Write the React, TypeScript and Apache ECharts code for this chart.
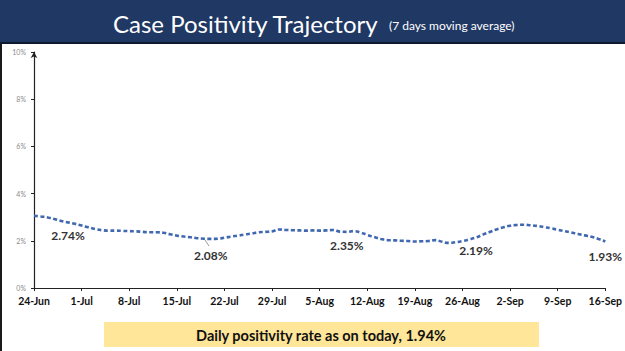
import React, { useEffect, useRef } from "react";
import * as echarts from "echarts";

// Daily 7-day moving average of case positivity (%), 24-Jun to 16-Sep
const startDate = "2020-06-24";
const dayCount = 85;
const months = ["Jan", "Feb", "Mar", "Apr", "May", "Jun", "Jul", "Aug", "Sep", "Oct", "Nov", "Dec"];
const categories: string[] = (() => {
  const out: string[] = [];
  const d0 = new Date(startDate + "T00:00:00Z");
  for (let i = 0; i < dayCount; i++) {
    const d = new Date(d0.getTime() + i * 86400000);
    out.push(d.getUTCDate() + "-" + months[d.getUTCMonth()]);
  }
  return out;
})();

const positivity = [
  3.06, 3.03, 2.99, 2.92, 2.84, 2.78, 2.72, 2.65, 2.57, 2.5,
  2.45, 2.43, 2.43, 2.42, 2.41, 2.4, 2.38, 2.36, 2.36, 2.34,
  2.28, 2.22, 2.18, 2.15, 2.11, 2.09, 2.08, 2.09, 2.13, 2.18,
  2.22, 2.27, 2.31, 2.36, 2.38, 2.4, 2.48, 2.46, 2.45, 2.44,
  2.43, 2.44, 2.43, 2.44, 2.46, 2.39, 2.38, 2.41, 2.35, 2.25,
  2.16, 2.08, 2.03, 2.02, 2.0, 1.99, 1.97, 1.98, 1.99, 2.03,
  1.96, 1.91, 1.94, 1.99, 2.06, 2.14, 2.26, 2.37, 2.48, 2.57,
  2.64, 2.67, 2.68, 2.66, 2.63, 2.58, 2.53, 2.47, 2.41, 2.35,
  2.29, 2.23, 2.17, 2.08, 1.97,
];

const labelIndices = [5, 26, 46, 65, 84];
const labelTexts = ["2.74%", "2.08%", "2.35%", "2.19%", "1.93%"];
const labelDistances = [7, 10, 7, 7, 8];

const yTicks = [0, 2, 4, 6, 8, 10];

const titleText = "Case Positivity Trajectory";
const subtitleText = "(7 days moving average)";
const footerText = "Daily positivity rate as on today, 1.94%";

export default function App() {
  const ref = useRef<HTMLDivElement>(null);
  useEffect(() => {
    document.body.style.margin = "0";
    if (!ref.current) return;
    const chart = echarts.init(ref.current, undefined, { renderer: "svg" });
    const data = positivity.map((v, i) => {
      const k = labelIndices.indexOf(i);
      if (k < 0) return { value: v, symbol: "none" };
      return {
        value: v,
        symbol: "circle",
        symbolSize: 1,
        itemStyle: { color: "rgba(0,0,0,0)" },
        label: {
          show: true,
          position: "bottom",
          distance: labelDistances[k],
          formatter: labelTexts[k],
          fontFamily: "Lato",
          fontWeight: "bold",
          fontSize: 12,
          color: "#333333",
        },
      };
    });
    chart.setOption({
      animation: false,
      backgroundColor: "#ffffff",
      grid: { left: 34, right: 18, top: 52, bottom: 63 },
      xAxis: {
        type: "category",
        data: categories,
        boundaryGap: false,
        axisLine: { show: true, lineStyle: { color: "#222", width: 1.2 } },
        axisTick: { show: true, interval: 6, length: 3, inside: false, lineStyle: { color: "#222" } },
        axisLabel: {
          interval: 6,
          color: "#111",
          fontFamily: "Lato",
          fontWeight: "bold",
          fontSize: 10.5,
          margin: 7,
        },
        splitLine: { show: false },
      },
      yAxis: {
        type: "value",
        min: yTicks[0],
        max: yTicks[yTicks.length - 1],
        interval: 2,
        axisLine: {
          show: true,
          symbol: ["none", "arrow"],
          symbolSize: [5, 6],
          lineStyle: { color: "#222", width: 1.2 },
        },
        axisTick: { show: true, length: 3, lineStyle: { color: "#222" } },
        axisLabel: {
          formatter: "{value}%",
          color: "#8a8a8a",
          fontFamily: "Lato",
          fontSize: 7,
          margin: 8,
        },
        splitLine: { show: false },
      },
      series: [
        {
          type: "line",
          data,
          smooth: true,
          showSymbol: true,
          showAllSymbol: true,
          lineStyle: { color: "#4068b0", width: 2.6, type: [4, 2.5] },
          z: 3,
        },
      ],
      graphic: [
        { type: "rect", shape: { x: 0, y: 0, width: 625, height: 42 }, style: { fill: "#1f3864" }, z: 10 },
        { type: "rect", shape: { x: 0, y: 42, width: 625, height: 2 }, style: { fill: "#0e1a30" }, z: 10 },
        { type: "rect", shape: { x: 0, y: 44, width: 2, height: 307 }, style: { fill: "#1a1a1a" }, z: 10 },
        {
          type: "text",
          x: 113,
          y: 23,
          style: {
            text: titleText,
            fill: "#ffffff",
            font: "24px Lato",
            textAlign: "left",
            textVerticalAlign: "middle",
          },
          z: 11,
        },
        {
          type: "text",
          x: 389,
          y: 25,
          style: {
            text: subtitleText,
            fill: "#ffffff",
            font: "12px Lato",
            textAlign: "left",
            textVerticalAlign: "middle",
          },
          z: 11,
        },
        { type: "rect", shape: { x: 104, y: 322, width: 435, height: 25 }, style: { fill: "#ffe699" }, z: 10 },
        {
          type: "text",
          x: 321,
          y: 335,
          style: {
            text: footerText,
            fill: "#111111",
            font: "bold 14.5px Lato",
            textAlign: "center",
            textVerticalAlign: "middle",
          },
          z: 11,
        },
        {
          type: "line",
          shape: { x1: 205, y1: 240, x2: 209, y2: 246 },
          style: { stroke: "#999", lineWidth: 1 },
          z: 4,
        },
      ],
    });
    return () => chart.dispose();
  }, []);
  return <div ref={ref} style={{ width: 625, height: 351 }} />;
}
